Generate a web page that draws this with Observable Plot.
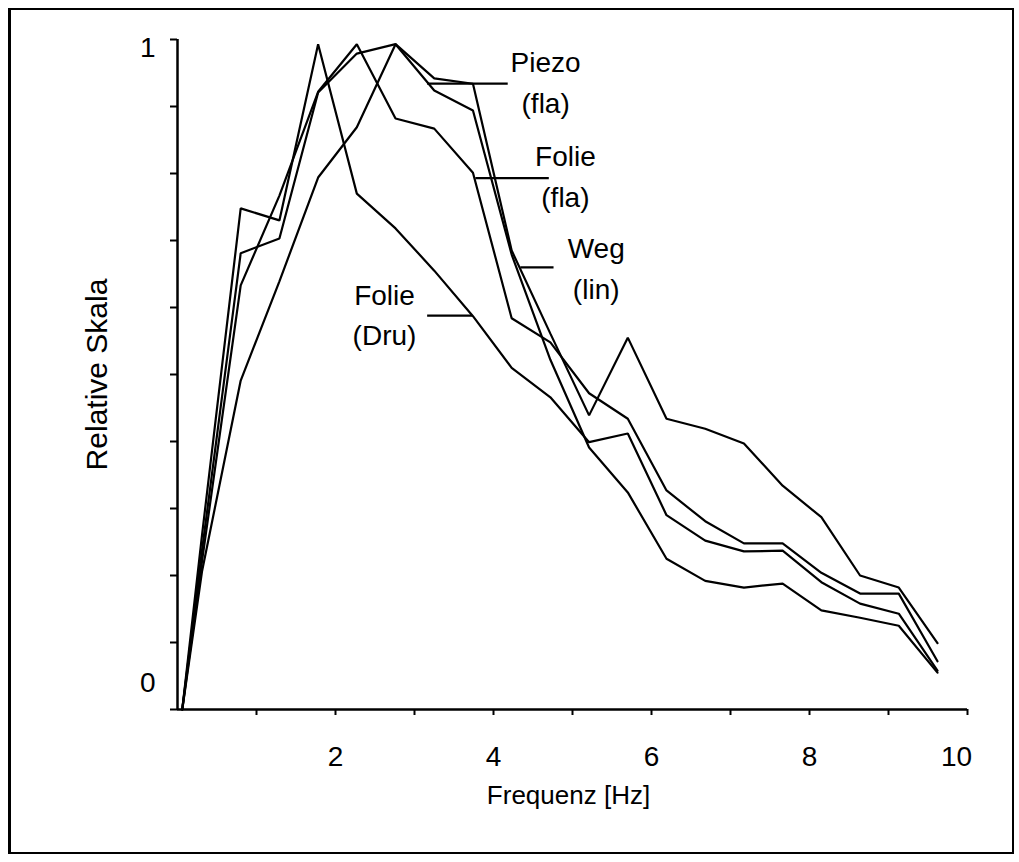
<!DOCTYPE html>
<html>
<head>
<meta charset="utf-8">
<script src="https://cdn.jsdelivr.net/npm/d3@7"></script>
<script src="https://cdn.jsdelivr.net/npm/@observablehq/plot@0.6"></script>
<style>
  html, body { margin: 0; padding: 0; background: #fff; }
  #wrap { position: relative; width: 1019px; height: 862px; overflow: hidden; }
  #border { position: absolute; left: 8px; top: 8px; width: 1001px; height: 842px; border: 2px solid #000; border-left-width: 3px; pointer-events: none; }
  #chart { position: absolute; left: 0; top: 0; }
</style>
</head>
<body>
<div id="wrap"><div id="chart"></div><div id="border"></div></div>
<script>
// Frequency positions of the measured points (Hz)
const freq = [0.06, 0.31, 0.80, 1.29, 1.78, 2.27, 2.76, 3.25, 3.74, 4.23, 4.72, 5.21, 5.70, 6.19, 6.68, 7.17, 7.66, 8.15, 8.64, 9.13, 9.62];

// Relative values per series
const piezoFla = [0.00, 0.237, 0.681, 0.703, 0.921, 0.979, 0.993, 0.942, 0.934, 0.685, 0.561, 0.439, 0.555, 0.434, 0.419, 0.397, 0.334, 0.287, 0.200, 0.182, 0.099];
const folieFla = [0.00, 0.221, 0.633, 0.767, 0.922, 0.993, 0.882, 0.867, 0.801, 0.584, 0.548, 0.472, 0.434, 0.327, 0.281, 0.248, 0.248, 0.204, 0.173, 0.173, 0.072];
const wegLin   = [0.00, 0.206, 0.491, 0.639, 0.794, 0.869, 0.993, 0.924, 0.894, 0.679, 0.522, 0.391, 0.324, 0.225, 0.192, 0.182, 0.188, 0.148, 0.137, 0.125, 0.055];
const folieDru = [0.00, 0.260, 0.748, 0.730, 0.993, 0.770, 0.718, 0.655, 0.587, 0.510, 0.466, 0.399, 0.412, 0.290, 0.252, 0.236, 0.237, 0.190, 0.158, 0.143, 0.058];

const seriesNames = ["Piezo (fla)", "Folie (fla)", "Weg (lin)", "Folie (Dru)"];
const seriesValues = [piezoFla, folieFla, wegLin, folieDru];

// Annotation labels (data coordinates) and their leader lines
const labelText = ["Piezo\n(fla)", "Folie\n(fla)", "Weg\n(lin)", "Folie\n(Dru)"];
const labelX = [4.66, 4.91, 5.30, 2.62];
const labelY = [0.940, 0.800, 0.663, 0.593];
const leaderX1 = [3.16, 3.77, 4.34, 3.16];
const leaderX2 = [4.18, 4.70, 4.76, 3.73];
const leaderY = [0.934, 0.793, 0.660, 0.588];

const xTicks = [1, 2, 3, 4, 5, 6, 7, 8, 9, 10];
const xTickLabels = [2, 4, 6, 8];
const xLastLabel = [10];
const yTicks = [0, 0.1, 0.2, 0.3, 0.4, 0.5, 0.6, 0.7, 0.8, 0.9, 1];

const xTitle = "Frequenz [Hz]";
const yTitle = "Relative Skala";

const data = seriesNames.flatMap((name, i) =>
  freq.map((f, j) => ({series: name, f, v: seriesValues[i][j]})));
const labels = labelText.map((t, i) => ({t, x: labelX[i], y: labelY[i]}));
const leaders = leaderY.map((y, i) => ({x1: leaderX1[i], x2: leaderX2[i], y}));

const font = "'Liberation Sans', Arial, Helvetica, sans-serif";

const chart = Plot.plot({
  width: 1019,
  height: 862,
  marginLeft: 177,
  marginRight: 52,
  marginTop: 39,
  marginBottom: 153,
  style: {fontFamily: font, fontSize: "26px", color: "#000", background: "transparent"},
  x: {domain: [0, 10]},
  y: {domain: [0, 1]},
  marks: [
    Plot.axisX({ticks: xTicks, tickSize: 6, tickFormat: () => "", strokeWidth: 2, label: null}),
    Plot.axisX({ticks: xTickLabels, tickSize: 0, tickPadding: 37, fontSize: 28, tickFormat: d => String(d), label: null}),
    Plot.axisX({ticks: xLastLabel, tickSize: 0, tickPadding: 37, dx: -11, fontSize: 28, tickFormat: d => String(d), label: null}),
    Plot.axisY({ticks: yTicks, tickSize: 7, tickFormat: () => "", strokeWidth: 2, label: null}),
    Plot.axisY({ticks: [1], tickSize: 0, tickPadding: 22, dy: 9, fontSize: 28, tickFormat: d => String(d), label: null}),
    Plot.axisY({ticks: [0], tickSize: 0, tickPadding: 22, dy: -26, fontSize: 28, tickFormat: d => String(d), label: null}),
    Plot.ruleY([0], {stroke: "#000", strokeWidth: 2.5}),
    Plot.ruleX([0], {stroke: "#000", strokeWidth: 2.5}),
    Plot.line(data, {x: "f", y: "v", z: "series", stroke: "#000", strokeWidth: 2.2, strokeLinejoin: "miter"}),
    Plot.link(leaders, {x1: "x1", x2: "x2", y1: "y", y2: "y", stroke: "#000", strokeWidth: 2.2}),
    Plot.text(labels, {x: "x", y: "y", text: "t", fontSize: 28, lineHeight: 1.45, fill: "#000"}),
    Plot.text([yTitle], {frameAnchor: "left", textAnchor: "middle", lineAnchor: "middle", rotate: -90, dx: -80, fontSize: 30, fill: "#000"}),
    Plot.text([xTitle], {frameAnchor: "bottom", textAnchor: "middle", lineAnchor: "middle", dy: 86, dx: -4, fontSize: 26, fill: "#000"})
  ]
});
document.getElementById("chart").appendChild(chart);
</script>
</body>
</html>
